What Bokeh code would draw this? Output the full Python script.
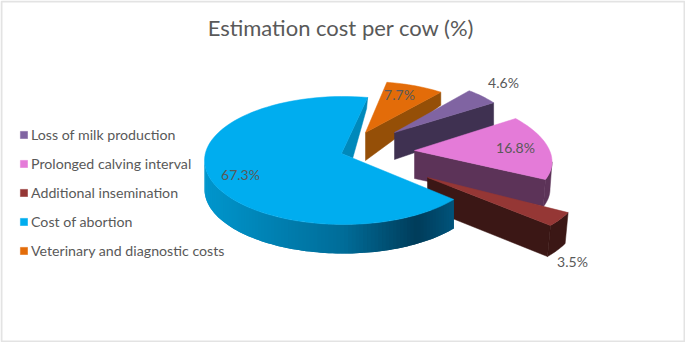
import math
from bokeh.plotting import figure
from bokeh.embed import file_html
from bokeh.resources import INLINE
from bokeh.core.properties import value
from bokeh.models import Legend, LegendItem, Range1d

# ---- data (legend order)
categories = ["Loss of milk production", "Prolonged calving interval", "Additional insemination",
              "Cost of abortion", "Veterinary and diagnostic costs"]
percent = [4.6, 16.8, 3.5, 67.3, 7.7]
chart_title = "Estimation cost per cow (%)"

# ---- styles
TOP = ["#8064A2", "#E47BD8", "#953735", "#00ADEF", "#E36C09"]
WALL = ["#3F3151", "#5C3358", "#3B1715", "#0089BB", "#954F07"]
TEXT = "#595959"
FONT = "Lato"

# clockwise order in the pie, first slice starts at this angle (deg)
CLOCKWISE = [4, 0, 1, 2, 3]
START_ANGLE = 80.0

# layout of each slice (pixels of the page picture), in legend order
PIE_X, PIE_Y = 343.0, 160.0
OFF_X = [51, 71, 84, 0, 22]
OFF_Y = [-28, -10, 17, 0, -28]
RX = [122, 136.5, 155, 139, 123]
RY = [55, 60.4, 72.2, 64, 51]
SHEAR_X = [0, -16.8, 0, 0, 0]
SHEAR_Y = [2.8, 4, 5.2, 0, 0]
DEPTH_APEX = [27, 28, 31, 29, 28]
DEPTH_RIM = [23, 27, 31, 29, 13]
DEPTH_SKEW = [0, -2, -3, 0, 0]
LABEL_X = [503, 515, 572, 240, 399]
LABEL_Y = [82, 147, 261, 174, 94]

# angles
spans = {}
a = START_ANGLE
for i in CLOCKWISE:
    d = percent[i] / sum(percent) * 360.0
    spans[i] = (a, a - d)
    a -= d


def rim(i, t_deg):
    t = math.radians(t_deg)
    return (PIE_X + OFF_X[i] + RX[i] * math.cos(t) + SHEAR_X[i] * math.sin(t),
            PIE_Y + OFF_Y[i] - RY[i] * math.sin(t) + SHEAR_Y[i] * math.cos(t))


def apex(i):
    if i == 3:  # the big slice's tip sits slightly above the ellipse centre
        return (PIE_X - 2, PIE_Y - 7)
    return (PIE_X + OFF_X[i], PIE_Y + OFF_Y[i])


def lerp_stops(x, stops):
    if x <= stops[0][0]:
        return stops[0][1]
    for (x0, c0), (x1, c1) in zip(stops, stops[1:]):
        if x <= x1:
            f = (x - x0) / (x1 - x0)
            return tuple(c0[k] + (c1[k] - c0[k]) * f for k in range(3))
    return stops[-1][1]


def hexc(c):
    return "#%02x%02x%02x" % tuple(int(round(v)) for v in c)


p = figure(width=685, height=342, output_backend="svg", toolbar_location=None,
           x_range=Range1d(0, 685), y_range=Range1d(342, 0), min_border=0,
           outline_line_color=None, background_fill_color="white")
p.axis.visible = False
p.grid.visible = False

# faint frame of the picture
p.quad(left=[1], right=[684], top=[1], bottom=[341], fill_alpha=0,
       line_color="#E3E3E3", line_width=2)

BLUE_SIDE = [(203, (0, 150, 205)), (260, (0, 132, 182)), (340, (0, 108, 152)),
             (413, (0, 60, 90)), (453, (0, 85, 125))]

items = {}
for i in CLOCKWISE:
    t0, t1 = spans[i]
    ax, ay = apex(i)
    end = rim(i, t1)
    n = 90
    sk = DEPTH_SKEW[i]

    if i == 3:
        # inner wall beside the tip: t1 is the rim point at the top, t0 the one at the front
        front = rim(i, t0)
        q = (ax + 0.1 * (front[0] - ax), ay + 0.1 * (front[1] - ay))
        p.patch([end[0], end[0] - 1, q[0], ax], [end[1], end[1] + 11, q[1], ay],
                fill_color=WALL[i], line_color=WALL[i], line_width=0.5)
        # gradient outer wall, from the left extreme to the front cut; each band
        # reaches under the next one so no seams show
        ts = [-180 + (t0 + 180) * k / n for k in range(n + 1)]
        for k in range(n - 1, -1, -1):
            a0 = rim(i, ts[k])
            a1 = rim(i, ts[min(k + 1, n)])
            a2 = rim(i, ts[min(k + 2, n)])
            col = hexc(lerp_stops((a0[0] + a1[0]) / 2, BLUE_SIDE))
            p.patch([a0[0], a1[0], a2[0], a2[0], a1[0], a0[0]],
                    [a0[1], a1[1], a2[1], a2[1] + DEPTH_RIM[i], a1[1] + DEPTH_RIM[i], a0[1] + DEPTH_RIM[i]],
                    fill_color=col, line_color=None)
    else:
        # outer wall (only the stretch that faces the viewer)
        if i == 1:
            ts = [-7 + (t1 + 7) * k / 12 for k in range(13)]
        elif i == 2:
            ts = [t1 + (t0 - t1) * k / 12 for k in range(13)]
        else:
            ts = []
        if ts:
            xs = [rim(i, u)[0] for u in ts] + [rim(i, u)[0] + sk for u in reversed(ts)]
            ys = [rim(i, u)[1] for u in ts] + [rim(i, u)[1] + DEPTH_RIM[i] for u in reversed(ts)]
            p.patch(xs, ys, fill_color=WALL[i], line_color=WALL[i], line_width=0.5)
        # cut wall from tip to rim
        p.patch([ax, end[0], end[0] + sk, ax],
                [ay, end[1], end[1] + DEPTH_RIM[i], ay + DEPTH_APEX[i]],
                fill_color=WALL[i], line_color=WALL[i], line_width=0.5)

    # top face
    m = n if i == 3 else 24
    ts = [t0 + (t1 - t0) * k / m for k in range(m + 1)]
    xs = [ax] + [rim(i, u)[0] for u in ts]
    ys = [ay] + [rim(i, u)[1] for u in ts]
    items[i] = p.patch(xs, ys, fill_color=TOP[i], line_color=TOP[i], line_width=0.5)

# data labels
p.text(LABEL_X, LABEL_Y, text=["%.1f%%" % v for v in percent], text_font=value(FONT),
       text_font_size="14px", text_color=TEXT, text_align="center", text_baseline="middle")

# title
p.text([340.5], [26.5], text=[chart_title], text_font=value(FONT), text_font_size="22px",
       text_color=TEXT, text_align="center", text_baseline="middle")

legend = Legend(items=[LegendItem(label=value(categories[i]), renderers=[items[i]]) for i in range(5)],
                location=(19, 83), orientation="vertical", margin=0, padding=0, spacing=12,
                glyph_width=9, glyph_height=9, label_height=14, label_standoff=3,
                label_text_font=FONT, label_text_font_size="14.2px", label_text_color=TEXT,
                background_fill_alpha=0, border_line_color=None, label_text_line_height=1.0)
p.add_layout(legend)

open("out.html", "w").write(file_html(p, INLINE))
